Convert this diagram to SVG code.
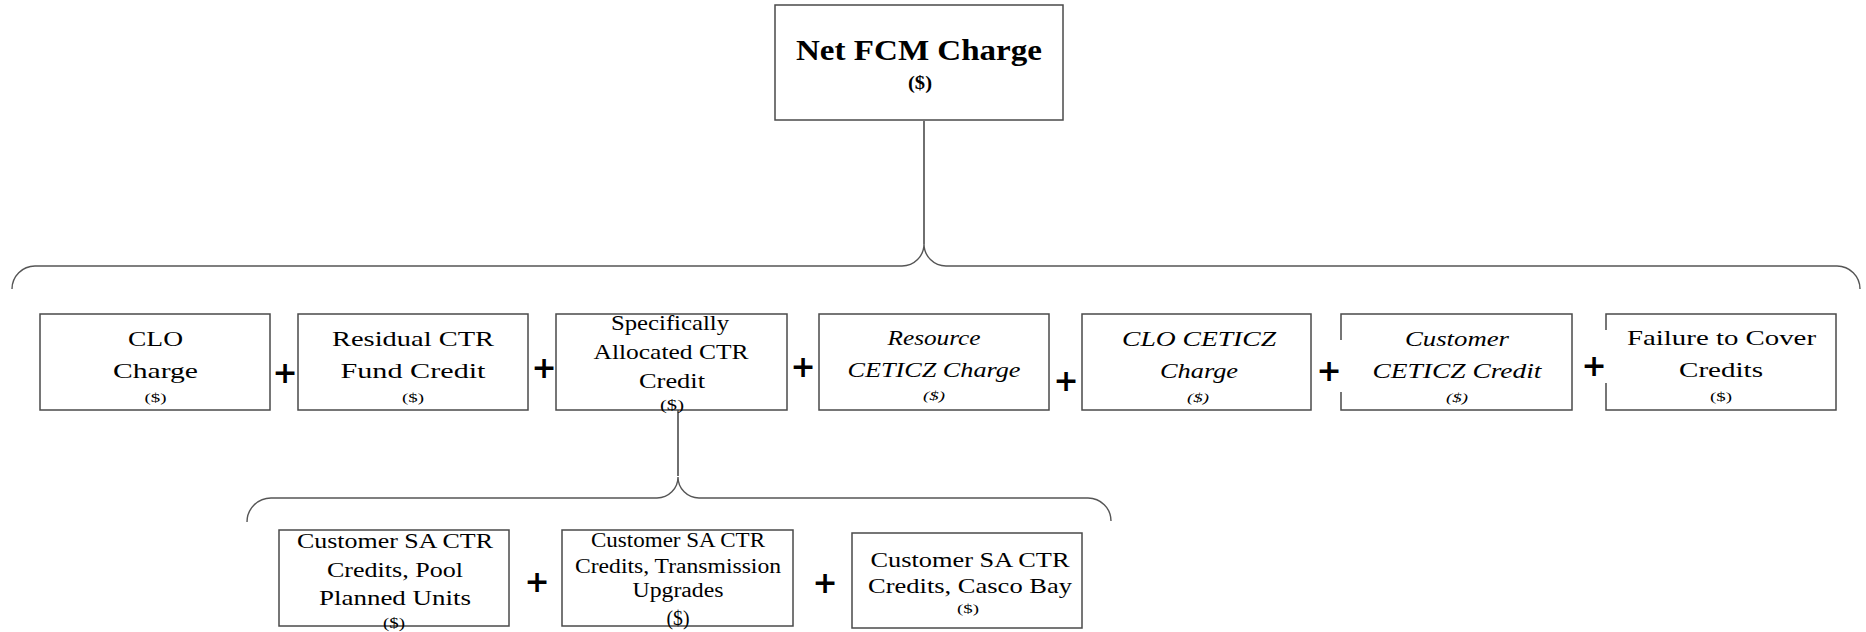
<svg xmlns="http://www.w3.org/2000/svg" width="1866" height="632" viewBox="0 0 1866 632">
<style>
.box{fill:#fff;stroke:#4a4a4a;stroke-width:1.5}
.t{font-family:"Liberation Serif","Times New Roman",serif;font-size:22px;fill:#000;text-anchor:middle}
.s{font-size:13px}
.i{font-style:italic}
.b{font-weight:bold}
.plus{font-family:"DejaVu Sans",sans-serif;font-weight:bold;font-size:30px;fill:#000;text-anchor:middle}
.con{fill:none;stroke:#555;stroke-width:1.4}
.stem{fill:none;stroke:#222;stroke-width:1.3}
</style>
<g id="connectors">
<path class="stem" d="M924,121 V244"/>
<path class="con" d="M12,289 A23,23 0 0 1 35,266 H902 A22,22 0 0 0 924,244 A22,22 0 0 0 946,266 H1837 A23,23 0 0 1 1860,289"/>
<path class="stem" d="M678,410 V476"/>
<path class="con" d="M247,522 A24,24 0 0 1 271,498 H657 A21,21 0 0 0 678,477 A21,21 0 0 0 699,498 H1088 A23,23 0 0 1 1111,521"/>
</g>
<g id="net-fcm-charge">
<rect class="box" x="775" y="5" width="288" height="115"/>
<text class="t b" x="919" y="60" style="font-size:30px" textLength="246" lengthAdjust="spacingAndGlyphs">Net FCM Charge</text>
<text class="t b" x="920" y="89" style="font-size:18px" textLength="24" lengthAdjust="spacingAndGlyphs">($)</text>
</g>
<g id="clo-charge">
<rect class="box" x="40" y="314" width="230" height="96"/>
<text class="t" x="155.5" y="346" textLength="55" lengthAdjust="spacingAndGlyphs">CLO</text>
<text class="t" x="155.5" y="378" textLength="85" lengthAdjust="spacingAndGlyphs">Charge</text>
<text class="t s" x="155.5" y="402" textLength="22" lengthAdjust="spacingAndGlyphs">($)</text>
</g>
<g id="residual-ctr">
<rect class="box" x="298" y="314" width="230" height="96"/>
<text class="t" x="413" y="346" textLength="162" lengthAdjust="spacingAndGlyphs">Residual CTR</text>
<text class="t" x="413" y="378" textLength="145" lengthAdjust="spacingAndGlyphs">Fund Credit</text>
<text class="t s" x="413" y="402" textLength="22" lengthAdjust="spacingAndGlyphs">($)</text>
</g>
<g id="specifically-allocated">
<rect class="box" x="556" y="314" width="231" height="96"/>
<text class="t" x="670" y="330" textLength="118" lengthAdjust="spacingAndGlyphs">Specifically</text>
<text class="t" x="671" y="359" textLength="155" lengthAdjust="spacingAndGlyphs">Allocated CTR</text>
<text class="t" x="672" y="388" textLength="66" lengthAdjust="spacingAndGlyphs">Credit</text>
<text class="t s" x="672" y="410" style="font-size:15px" textLength="24" lengthAdjust="spacingAndGlyphs">($)</text>
</g>
<g id="resource-ceticz">
<rect class="box" x="819" y="314" width="230" height="96"/>
<text class="t i" x="934" y="345" textLength="93" lengthAdjust="spacingAndGlyphs">Resource</text>
<text class="t i" x="934" y="377" textLength="173" lengthAdjust="spacingAndGlyphs">CETICZ Charge</text>
<text class="t s i" x="934" y="400" textLength="22" lengthAdjust="spacingAndGlyphs">($)</text>
</g>
<g id="clo-ceticz">
<rect class="box" x="1082" y="314" width="229" height="96"/>
<text class="t i" x="1199" y="346" textLength="154" lengthAdjust="spacingAndGlyphs">CLO CETICZ</text>
<text class="t i" x="1199" y="378" textLength="78" lengthAdjust="spacingAndGlyphs">Charge</text>
<text class="t s i" x="1198" y="402" textLength="22" lengthAdjust="spacingAndGlyphs">($)</text>
</g>
<g id="customer-ceticz">
<rect class="box" x="1341" y="314" width="231" height="96"/>
<text class="t i" x="1457" y="346" textLength="104" lengthAdjust="spacingAndGlyphs">Customer</text>
<text class="t i" x="1457" y="378" textLength="169" lengthAdjust="spacingAndGlyphs">CETICZ Credit</text>
<text class="t s i" x="1457" y="402" textLength="22" lengthAdjust="spacingAndGlyphs">($)</text>
</g>
<g id="failure-to-cover">
<rect class="box" x="1606" y="314" width="230" height="96"/>
<text class="t" x="1721.5" y="345" textLength="189" lengthAdjust="spacingAndGlyphs">Failure to Cover</text>
<text class="t" x="1721" y="377" textLength="84" lengthAdjust="spacingAndGlyphs">Credits</text>
<text class="t s" x="1721" y="401" textLength="22" lengthAdjust="spacingAndGlyphs">($)</text>
</g>
<g id="sa-pool-planned">
<rect class="box" x="279" y="530" width="230" height="96"/>
<text class="t" x="395" y="548" textLength="196" lengthAdjust="spacingAndGlyphs">Customer SA CTR</text>
<text class="t" x="395" y="577" textLength="136" lengthAdjust="spacingAndGlyphs">Credits, Pool</text>
<text class="t" x="395" y="605" textLength="152" lengthAdjust="spacingAndGlyphs">Planned Units</text>
<text class="t s" x="394" y="628" style="font-size:15px" textLength="22" lengthAdjust="spacingAndGlyphs">($)</text>
</g>
<g id="sa-transmission">
<rect class="box" x="562" y="530" width="231" height="96"/>
<text class="t" x="678" y="547" style="font-size:20px" textLength="174" lengthAdjust="spacingAndGlyphs">Customer SA CTR</text>
<text class="t" x="678" y="573" style="font-size:20px" textLength="206" lengthAdjust="spacingAndGlyphs">Credits, Transmission</text>
<text class="t" x="678" y="597" style="font-size:20px" textLength="91" lengthAdjust="spacingAndGlyphs">Upgrades</text>
<text class="t" x="678" y="625" style="font-size:21px" textLength="23" lengthAdjust="spacingAndGlyphs">($)</text>
</g>
<g id="sa-casco-bay">
<rect class="box" x="852" y="533" width="230" height="95"/>
<text class="t" x="970" y="567" textLength="199" lengthAdjust="spacingAndGlyphs">Customer SA CTR</text>
<text class="t" x="970" y="593" textLength="204" lengthAdjust="spacingAndGlyphs">Credits, Casco Bay</text>
<text class="t s" x="968" y="613" textLength="22" lengthAdjust="spacingAndGlyphs">($)</text>
</g>
<g id="operators">
<rect x="1334" y="340" width="12" height="52" fill="#fff"/>
<rect x="1598" y="330" width="12" height="53" fill="#fff"/>
<text class="plus" x="285" y="383">+</text>
<text class="plus" x="544" y="378">+</text>
<text class="plus" x="803" y="377">+</text>
<text class="plus" x="1066" y="391">+</text>
<text class="plus" x="1329" y="381">+</text>
<text class="plus" x="1594" y="376">+</text>
<text class="plus" x="537" y="592">+</text>
<text class="plus" x="825" y="593">+</text>
</g>
</svg>
